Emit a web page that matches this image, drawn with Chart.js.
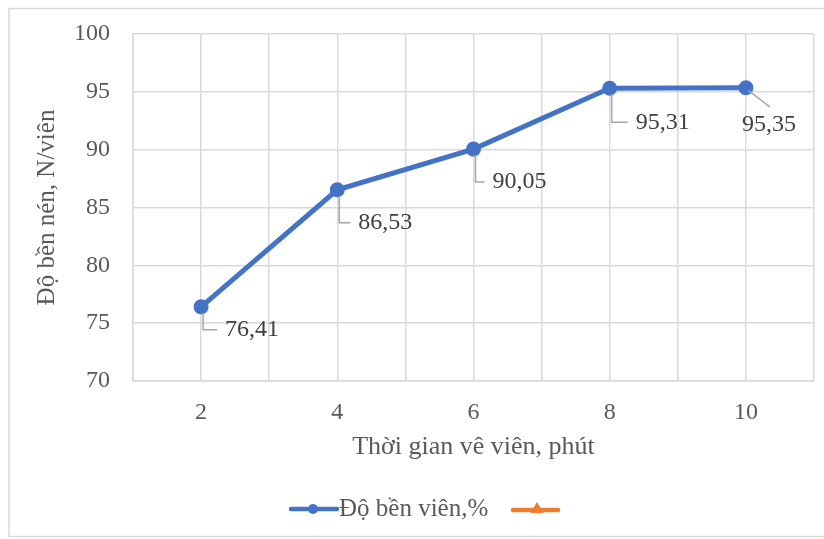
<!DOCTYPE html>
<html>
<head>
<meta charset="utf-8">
<script src="https://cdn.jsdelivr.net/npm/chart.js@4.4.0/dist/chart.umd.min.js"></script>
<style>
  html, body { margin: 0; padding: 0; background: #ffffff; }
  #wrap { width: 824px; height: 539px; position: relative; }
</style>
</head>
<body>
<div id="wrap"><canvas id="c" width="824" height="539"></canvas></div>
<script>
// Pelletizing time (minutes) and pellet strength
const times = [2, 4, 6, 8, 10];
const strength = [76.41, 86.53, 90.05, 95.31, 95.35];
const strengthLabels = ['76,41', '86,53', '90,05', '95,31', '95,35'];
const yTicks = [70, 75, 80, 85, 90, 95, 100];
const seriesNames = ['Độ bền viên,%', ''];
const xTitle = 'Thời gian vê viên, phút';
const yTitle = 'Độ bền nén, N/viên';

const FAMILY = '"Liberation Serif", "Times New Roman", serif';
const BLUE = '#4472C4';
const ORANGE = '#ED7D31';
const GRID = '#d9d9d9';
const TEXT = '#595959';
const LABEL_TEXT = '#404040';
const LEADER = '#a6a6a6';
const labelFont = 'normal 400 24px ' + FAMILY;
const legendFont = 'normal 400 25px ' + FAMILY;

// Where each value label sits relative to its point (text left edge / middle)
const labelPlacement = [
  { dx: 24, dy: 23, leader: 'elbow' },
  { dx: 21, dy: 33, leader: 'elbow' },
  { dx: 19, dy: 33, leader: 'elbow' },
  { dx: 26, dy: 34, leader: 'elbow' },
  { dx: -4, dy: 37, leader: 'diag' }
];

const valueLabels = {
  id: 'valueLabels',
  afterDatasetsDraw(chart) {
    const meta = chart.getDatasetMeta(0);
    const ctx = chart.ctx;
    ctx.save();
    ctx.font = labelFont;
    ctx.textBaseline = 'middle';
    ctx.textAlign = 'left';
    meta.data.forEach((pt, i) => {
      const p = labelPlacement[i];
      const tx = pt.x + p.dx;
      const ty = pt.y + p.dy;
      ctx.strokeStyle = LEADER;
      ctx.lineWidth = 1.5;
      ctx.beginPath();
      if (p.leader === 'elbow') {
        ctx.moveTo(pt.x + 2, pt.y + 6);
        ctx.lineTo(pt.x + 2, ty);
        ctx.lineTo(tx - 8, ty);
      } else {
        ctx.moveTo(pt.x + 3, pt.y + 3);
        ctx.lineTo(pt.x + 24, pt.y + 19);
      }
      ctx.stroke();
      ctx.fillStyle = LABEL_TEXT;
      ctx.fillText(strengthLabels[i], tx, ty);
    });
    ctx.restore();
  }
};

// Line-with-marker legend entries under the axis title, plus the outer frame
const legendAndFrame = {
  id: 'legendAndFrame',
  beforeDraw(chart) {
    const ctx = chart.ctx;
    ctx.save();
    ctx.fillStyle = '#ffffff';
    ctx.fillRect(0, 0, chart.width, chart.height);
    ctx.strokeStyle = GRID;
    ctx.lineWidth = 1.5;
    ctx.strokeRect(9, 8.5, chart.width - 4, chart.height - 11);
    ctx.restore();
  },
  afterDraw(chart) {
    const ctx = chart.ctx;
    const y = 509;
    ctx.save();
    ctx.font = legendFont;
    ctx.textBaseline = 'middle';
    const ds = chart.data.datasets;
    // first entry: line with a round marker, then its name
    let x = 291;
    ctx.strokeStyle = ds[0].borderColor;
    ctx.lineWidth = 4.5;
    ctx.lineCap = 'round';
    ctx.beginPath(); ctx.moveTo(x, y); ctx.lineTo(x + 46, y); ctx.stroke();
    ctx.fillStyle = ds[0].borderColor;
    ctx.beginPath(); ctx.arc(x + 22, y, 5, 0, Math.PI * 2); ctx.fill();
    ctx.fillStyle = TEXT;
    ctx.textAlign = 'left';
    ctx.fillText(seriesNames[0], x + 48, y);
    // second entry: line with a triangle marker, unnamed
    x = 513;
    ctx.strokeStyle = ds[1].borderColor;
    ctx.beginPath(); ctx.moveTo(x, y + 1); ctx.lineTo(x + 45, y + 1); ctx.stroke();
    ctx.fillStyle = ds[1].borderColor;
    ctx.beginPath();
    ctx.moveTo(x + 24, y - 7); ctx.lineTo(x + 30.5, y + 4); ctx.lineTo(x + 17.5, y + 4);
    ctx.closePath(); ctx.fill();
    ctx.restore();
  }
};

new Chart(document.getElementById('c'), {
  type: 'line',
  data: {
    datasets: [
      {
        label: seriesNames[0],
        data: times.map((t, i) => ({ x: t, y: strength[i] })),
        borderColor: BLUE,
        backgroundColor: BLUE,
        borderWidth: 5,
        pointRadius: 5,
        pointHoverRadius: 5,
        pointBackgroundColor: BLUE,
        pointBorderColor: BLUE,
        tension: 0
      },
      {
        label: seriesNames[1],
        data: [],
        borderColor: ORANGE,
        backgroundColor: ORANGE,
        pointStyle: 'triangle'
      }
    ]
  },
  options: {
    responsive: false,
    animation: false,
    devicePixelRatio: 1,
    layout: { padding: { top: 34, right: 8, bottom: 76, left: 0 } },
    plugins: {
      legend: { display: false },
      tooltip: { enabled: false }
    },
    scales: {
      x: {
        type: 'linear',
        min: 1,
        max: 11,
        grid: { color: GRID, lineWidth: 1.5, drawTicks: false },
        border: { color: GRID, width: 1.5 },
        ticks: {
          stepSize: 1,
          autoSkip: false,
          maxRotation: 0,
          padding: 17,
          color: TEXT,
          font: { family: FAMILY, size: 24 },
          callback: v => (times.includes(v) ? String(v) : '')
        },
        title: {
          display: true,
          text: xTitle,
          color: TEXT,
          font: { family: FAMILY, size: 26 },
          padding: { top: 0, bottom: 0 }
        },
        afterFit(scale) {
          scale.height = 82;
          scale.paddingLeft = 0;
          scale.paddingRight = 0;
        }
      },
      y: {
        min: yTicks[0],
        max: yTicks[yTicks.length - 1],
        grid: { color: GRID, lineWidth: 1.5, drawTicks: false },
        border: { color: GRID, width: 1.5 },
        afterBuildTicks(scale) { scale.ticks = yTicks.map(v => ({ value: v })); },
        ticks: {
          padding: 23,
          color: TEXT,
          font: { family: FAMILY, size: 24 }
        },
        title: {
          display: true,
          text: yTitle,
          color: TEXT,
          font: { family: FAMILY, size: 25 },
          padding: { top: 32, bottom: 0 }
        },
        afterFit(scale) {
          scale.width = 133;
          scale.paddingTop = 0;
          scale.paddingBottom = 0;
        }
      }
    }
  },
  plugins: [valueLabels, legendAndFrame]
});
</script>
</body>
</html>
